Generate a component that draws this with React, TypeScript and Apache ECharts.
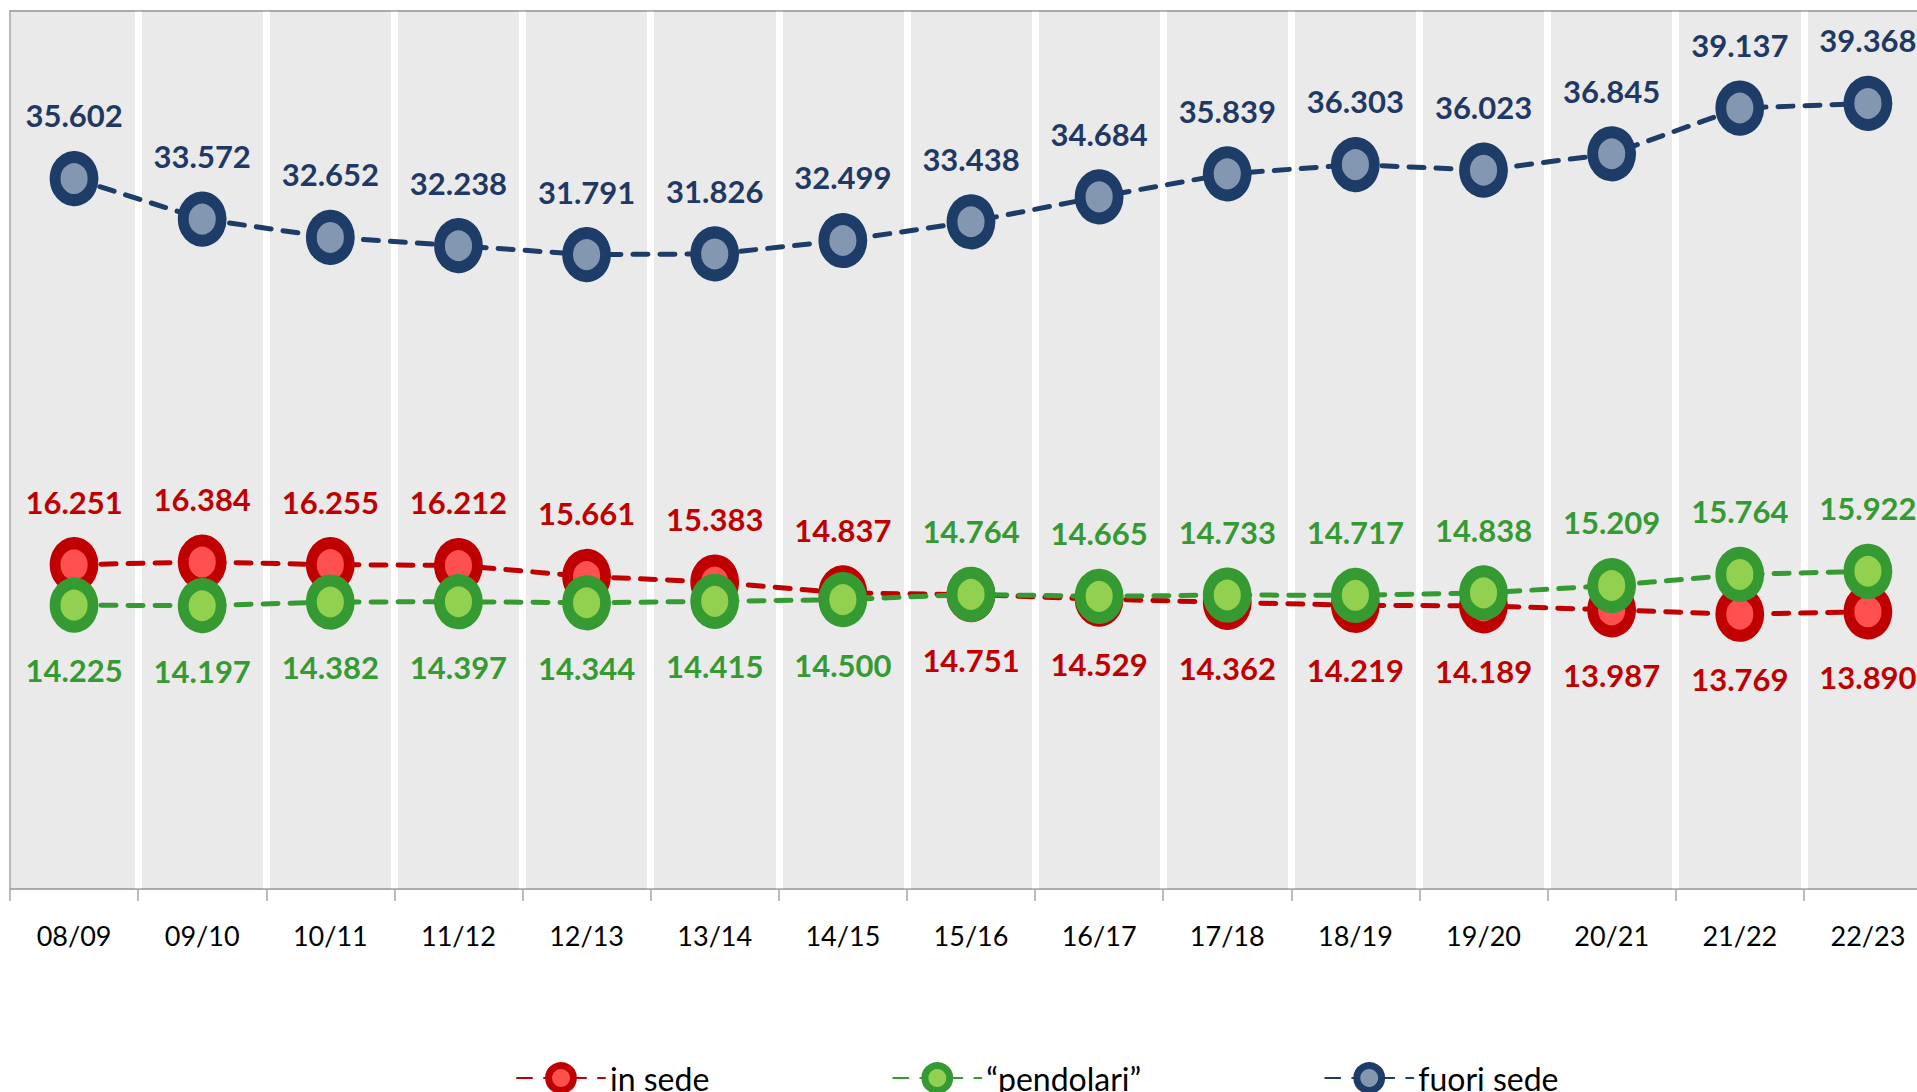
import React, { useEffect, useRef } from "react";
import * as echarts from "echarts";

const categories = ["08/09", "09/10", "10/11", "11/12", "12/13", "13/14", "14/15", "15/16", "16/17", "17/18", "18/19", "19/20", "20/21", "21/22", "22/23"];
const inSede = [16.251, 16.384, 16.255, 16.212, 15.661, 15.383, 14.837, 14.751, 14.529, 14.362, 14.219, 14.189, 13.987, 13.769, 13.89];
const pendolari = [14.225, 14.197, 14.382, 14.397, 14.344, 14.415, 14.5, 14.764, 14.665, 14.733, 14.717, 14.838, 15.209, 15.764, 15.922];
const fuoriSede = [35.602, 33.572, 32.652, 32.238, 31.791, 31.826, 32.499, 33.438, 34.684, 35.839, 36.303, 36.023, 36.845, 39.137, 39.368];
const seriesNames = ["in sede", "\u201Cpendolari\u201D", "fuori sede"];
// index from which "in sede" labels go below and "pendolari" labels go above
const crossIndex = 7;

const fmt = (p: any) => Number(p.value).toFixed(3);

export default function App() {
  const ref = useRef<HTMLDivElement>(null);
  useEffect(() => {
    const chart = echarts.init(ref.current!, null, { renderer: "svg" });
    const withPos = (vals: number[], above: (i: number) => boolean) =>
      vals.map((v, i) => ({
        value: v,
        label: above(i) ? { position: "top", distance: 20 } : { position: "bottom", distance: 22 },
      }));
    const mkSeries = (name: string, data: any[], dark: string, light: string, text: string, z: number) => ({
      name,
      type: "line",
      data,
      z,
      symbol: "circle",
      symbolSize: [38, 43],
      itemStyle: { color: light, borderColor: dark, borderWidth: 11.5 },
      lineStyle: { color: dark, width: 5, type: [15, 12], cap: "round" },
      label: {
        show: true,
        color: text,
        fontFamily: "Lato",
        fontWeight: "bold",
        fontSize: 31,
        formatter: fmt,
      },
      emphasis: { disabled: true },
    });
    chart.setOption({
      animation: false,
      backgroundColor: "#ffffff",
      grid: {
        left: 10,
        top: 11,
        right: 0,
        bottom: 203,
        show: true,
        backgroundColor: "#EAEAEA",
        borderColor: "#A6A6A6",
        borderWidth: 1.5,
      },
      legend: {
        left: 511,
        top: 1057,
        itemWidth: 88,
        itemHeight: 31,
        itemGap: 183,
        textStyle: { fontFamily: "Lato", fontSize: 32, color: "#000" },
        itemStyle: { borderWidth: 7 },
        data: seriesNames,
      },
      xAxis: [
        {
          type: "category",
          data: categories,
          boundaryGap: true,
          axisLine: { lineStyle: { color: "#A6A6A6", width: 1.5 } },
          axisTick: { show: true, length: 12, interval: 0, lineStyle: { color: "#A6A6A6", width: 1.5 } },
          axisLabel: { color: "#000", fontFamily: "Lato", fontSize: 27, margin: 33, interval: 0 },
          splitLine: { show: true, showMinLine: false, interval: 0, lineStyle: { color: "#ffffff", width: 7 } },
        },
        {
          type: "category",
          data: categories,
          position: "top",
          z: 5,
          axisLine: { lineStyle: { color: "#A6A6A6", width: 1.5 } },
          axisTick: { show: false },
          axisLabel: { show: false },
          splitLine: { show: false },
        },
      ],
      yAxis: { type: "value", min: 0, max: 44, show: false },
      series: [
        mkSeries(seriesNames[0], withPos(inSede, (i) => i < crossIndex), "#C00000", "#FF5050", "#C00000", 2),
        mkSeries(seriesNames[1], withPos(pendolari, (i) => i >= crossIndex), "#359A32", "#92D050", "#359A32", 3),
        mkSeries(seriesNames[2], withPos(fuoriSede, () => true), "#1D3C67", "#8497B0", "#1F3864", 4),
      ],
    });
    return () => chart.dispose();
  }, []);
  return (
    <div style={{ position: "absolute", left: 0, top: 0, width: 1917, height: 1092, overflow: "hidden" }}>
      <div ref={ref} style={{ width: 1932, height: 1092 }} />
    </div>
  );
}
